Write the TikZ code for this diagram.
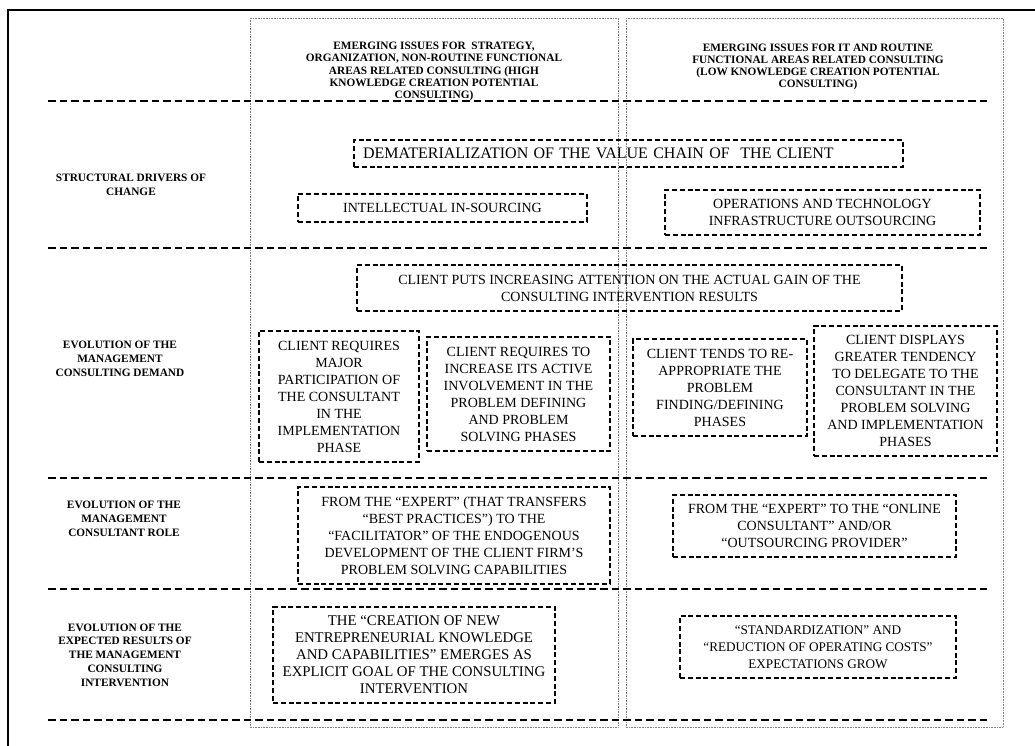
\documentclass[tikz,border=0pt]{standalone}
\usepackage{fontspec}
\setmainfont{Liberation Serif}
\begin{document}
\begin{tikzpicture}[x=1pt,y=-1pt,
  box/.style={draw, line width=1.1pt, dash pattern=on 5pt off 2.8pt, align=center, inner sep=0pt, font=\fontsize{14}{17}\selectfont},
  sepline/.style={line width=1.4pt, dash pattern=on 7.5pt off 4pt},
  colbox/.style={draw=gray, line width=0.6pt, densely dotted},
  lab/.style={align=center, inner sep=0pt, font=\bfseries\fontsize{11.3}{13.8}\selectfont},
  hdr/.style={align=center, inner sep=0pt, font=\bfseries\fontsize{11.3}{12.3}\selectfont}]
\useasboundingbox (0,0) rectangle (1035,745);
% outer frame
\draw[line width=2.6pt] (8,760) -- (8,10) -- (1050,10);
% columns
\draw[colbox] (250,18) rectangle (618,727);
\draw[colbox] (626,18) rectangle (1003,727);
% separators
\foreach \yy in {101,248,478,589,720} \draw[sepline] (48,\yy) -- (988,\yy);
% headers
\node[hdr] (hl) at (434,71.5) {EMERGING ISSUES FOR\ \ STRATEGY,\\ORGANIZATION, NON-ROUTINE FUNCTIONAL\\AREAS RELATED CONSULTING (HIGH\\KNOWLEDGE CREATION POTENTIAL\\CONSULTING)};
\node[hdr] (hr) at (818,67) {EMERGING ISSUES FOR IT AND ROUTINE\\FUNCTIONAL AREAS RELATED CONSULTING\\(LOW KNOWLEDGE CREATION POTENTIAL\\CONSULTING)};
% row labels
\node[lab] (l1) at (131,185) {STRUCTURAL DRIVERS OF\\CHANGE};
\node[lab] (l2) at (120,359) {EVOLUTION OF THE\\MANAGEMENT\\CONSULTING DEMAND};
\node[lab] (l3) at (124,519) {EVOLUTION OF THE\\MANAGEMENT\\CONSULTANT ROLE};
\node[lab] (l4) at (125,655) {EVOLUTION OF THE\\EXPECTED RESULTS OF\\THE MANAGEMENT\\CONSULTING\\INTERVENTION};
% boxes
\node[box, align=left, text width=531pt, inner xsep=9pt, minimum height=27pt, font=\fontsize{16}{17}\selectfont] (dem) at (628.5,153.5) {DEMATERIALIZATION OF THE VALUE CHAIN OF\ \ THE CLIENT};
\node[box, minimum width=289pt, minimum height=28pt] (ins) at (442.5,208) {INTELLECTUAL IN-SOURCING};
\node[box, minimum width=315pt, minimum height=45pt] (ops) at (822.5,212.5) {OPERATIONS AND TECHNOLOGY\\INFRASTRUCTURE OUTSOURCING};
\node[box, minimum width=545pt, minimum height=46pt] (puts) at (629.5,288) {CLIENT PUTS INCREASING ATTENTION ON THE ACTUAL GAIN OF THE\\CONSULTING INTERVENTION RESULTS};
\node[box, minimum width=160pt, minimum height=131pt] (maj) at (339,396.5) {CLIENT REQUIRES\\MAJOR\\PARTICIPATION OF\\THE CONSULTANT\\IN THE\\IMPLEMENTATION\\PHASE};
\node[box, minimum width=183pt, minimum height=114pt] (inc) at (518.5,394) {CLIENT REQUIRES TO\\INCREASE ITS ACTIVE\\INVOLVEMENT IN THE\\PROBLEM DEFINING\\AND PROBLEM\\SOLVING PHASES};
\node[box, minimum width=174pt, minimum height=97pt] (ten) at (720,387.5) {CLIENT TENDS TO RE-\\APPROPRIATE THE\\PROBLEM\\FINDING/DEFINING\\PHASES};
\node[box, minimum width=183pt, minimum height=130pt] (dis) at (905.5,391) {CLIENT DISPLAYS\\GREATER TENDENCY\\TO DELEGATE TO THE\\CONSULTANT IN THE\\PROBLEM SOLVING\\AND IMPLEMENTATION\\PHASES};
\node[box, minimum width=312pt, minimum height=97pt] (fac) at (454,535.5) {FROM THE “EXPERT” (THAT TRANSFERS\\“BEST PRACTICES”) TO THE\\“FACILITATOR” OF THE ENDOGENOUS\\DEVELOPMENT OF THE CLIENT FIRM’S\\PROBLEM SOLVING CAPABILITIES};
\node[box, minimum width=283pt, minimum height=62pt] (onl) at (814.5,526) {FROM THE “EXPERT” TO THE “ONLINE\\CONSULTANT” AND/OR\\“OUTSOURCING PROVIDER”};
\node[box, minimum width=282pt, minimum height=96pt, font=\fontsize{14.8}{17}\selectfont] (cre) at (414,655) {THE “CREATION OF NEW\\ENTREPRENEURIAL KNOWLEDGE\\AND CAPABILITIES” EMERGES AS\\EXPLICIT GOAL OF THE CONSULTING\\INTERVENTION};
\node[box, minimum width=276pt, minimum height=62pt, font=\fontsize{13.2}{17}\selectfont] (std) at (818,647) {“STANDARDIZATION” AND\\“REDUCTION OF OPERATING COSTS”\\EXPECTATIONS GROW};
\end{tikzpicture}
\end{document}
